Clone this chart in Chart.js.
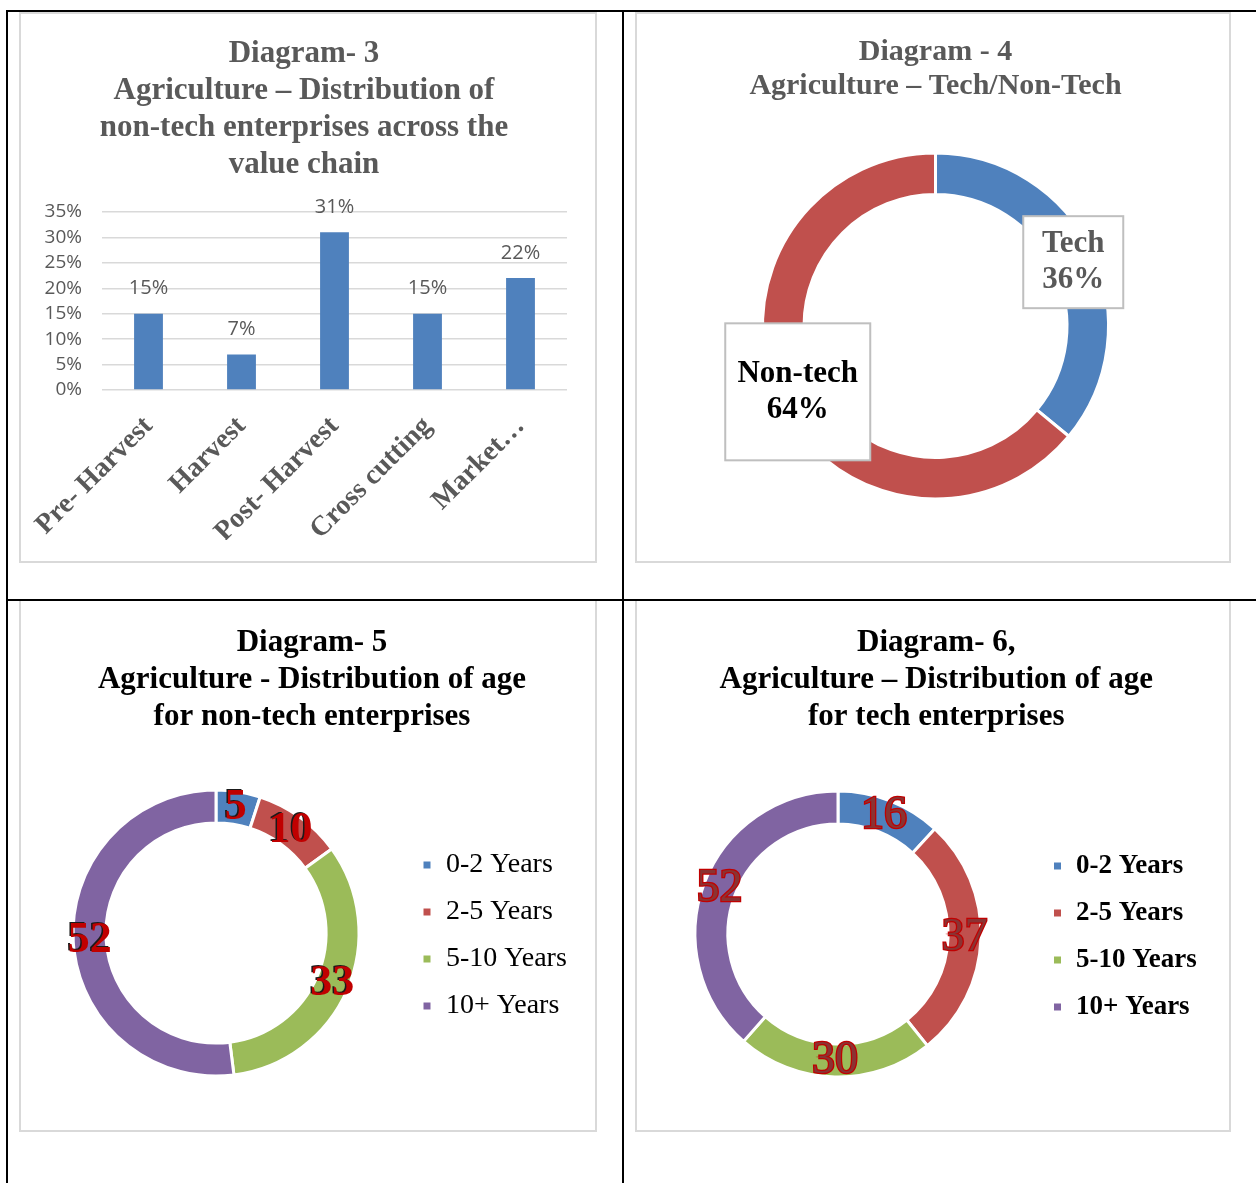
<!DOCTYPE html>
<html><head><meta charset="utf-8">
<script src="https://cdn.jsdelivr.net/npm/chart.js@4.4.1/dist/chart.umd.min.js"></script>
<style>
html,body{margin:0;padding:0;background:#fff;}
body{width:1256px;height:1183px;position:relative;overflow:hidden;}
.line{position:absolute;background:#000;z-index:5;}
.box{position:absolute;border:2px solid #d9d9d9;box-sizing:border-box;background:#fff;}
.box canvas{position:absolute;left:0;top:0;}
</style></head><body>
<div class="box" style="left:19px;top:12px;width:578px;height:551px"><canvas id="c3" width="574" height="547"></canvas></div>
<div class="box" style="left:635px;top:12px;width:596px;height:551px"><canvas id="c4" width="592" height="547"></canvas></div>
<div class="box" style="left:19px;top:599px;width:578px;height:533px"><canvas id="c5" width="574" height="529"></canvas></div>
<div class="box" style="left:635px;top:599px;width:596px;height:533px"><canvas id="c6" width="592" height="529"></canvas></div>
<div class="line" style="left:6px;top:10px;width:1250px;height:2px"></div>
<div class="line" style="left:6px;top:599px;width:1250px;height:2px"></div>
<div class="line" style="left:6px;top:10px;width:2px;height:1173px"></div>
<div class="line" style="left:622px;top:10px;width:2px;height:1173px"></div>
<script>
// ---------- DATA ----------
const d3Title = ['Diagram- 3', 'Agriculture \u2013 Distribution of', 'non-tech enterprises across the', 'value chain'];
const d3Categories = ['Pre- Harvest', 'Harvest', 'Post- Harvest', 'Cross cutting', 'Market\u2026'];
const d3Values = [15, 7, 31, 15, 22];
const d3TickMax = 35;
const d3TickStep = 5;

const d4Title = ['Diagram - 4', 'Agriculture \u2013 Tech/Non-Tech'];
const d4Labels = ['Tech', 'Non-tech'];
const d4Values = [36, 64];

const d5Title = ['Diagram- 5', 'Agriculture - Distribution of age', 'for non-tech enterprises'];
const d6Title = ['Diagram- 6,', 'Agriculture \u2013 Distribution of age', 'for tech enterprises'];
const ageLabels = ['0-2 Years', '2-5 Years', '5-10 Years', '10+ Years'];
const d5Values = [5, 10, 33, 52];
const d6Values = [16, 37, 30, 52];

// ---------- STYLE ----------
const BLUE = '#4f81bd', RED = '#c0504d', GREEN = '#9bbb59', PURPLE = '#8064a2';
const GRAY = '#595959';
const SERIF = '"Liberation Serif", "Times New Roman", serif';
const SANS = '"Open Sans", "Liberation Sans", sans-serif';

// ---------- Diagram 3 ----------
const barLabelPlugin = {
  id: 'barLabels',
  afterDatasetsDraw(chart) {
    const ctx = chart.ctx;
    const meta = chart.getDatasetMeta(0);
    const vals = chart.data.datasets[0].data;
    ctx.save();
    ctx.font = '20px ' + SANS;
    ctx.fillStyle = GRAY;
    ctx.textAlign = 'center';
    ctx.textBaseline = 'middle';
    meta.data.forEach((bar, i) => ctx.fillText(vals[i] + '%', bar.x, bar.y - 25));
    ctx.restore();
  }
};

new Chart(document.getElementById('c3'), {
  type: 'bar',
  data: { labels: d3Categories, datasets: [{ data: d3Values, backgroundColor: BLUE, categoryPercentage: 1, barPercentage: 0.31 }] },
  options: {
    responsive: false, animation: false,
    layout: { padding: { left: 20, right: 28, top: 0, bottom: 21 } },
    plugins: {
      legend: { display: false }, tooltip: { enabled: false },
      title: { display: true, text: d3Title, color: GRAY,
        font: { family: SERIF, size: 31, weight: 'bold', lineHeight: 37 / 31 },
        padding: { top: 21.5, bottom: 28.5 } }
    },
    scales: {
      x: {
        grid: { display: false }, border: { display: false },
        ticks: { color: GRAY, font: { family: SERIF, size: 28, weight: 'bold' }, minRotation: 45, maxRotation: 45, padding: 12, autoSkip: false },
        afterFit(s) { s.height = 150; s.paddingLeft = 0; s.paddingRight = 0; }
      },
      y: {
        min: 0, max: d3TickMax,
        grid: { color: '#d9d9d9', lineWidth: 1.5, drawTicks: false }, border: { display: false },
        ticks: { stepSize: d3TickStep, autoSkip: false, color: GRAY, font: { family: SANS, size: 19 }, padding: 20, callback: v => v + '%' },
        afterFit(s) { s.width = 61; }
      }
    }
  },
  plugins: [barLabelPlugin]
});

// ---------- Diagram 4 ----------
const d4LabelStyle = [
  { color: GRAY, w: 100, h: 92 },
  { color: '#000000', w: 145, h: 137 }
];
const techLabelPlugin = {
  id: 'techLabels',
  afterDatasetsDraw(chart) {
    const ctx = chart.ctx;
    const meta = chart.getDatasetMeta(0);
    const vals = chart.data.datasets[0].data;
    const total = vals.reduce((a, b) => a + b, 0);
    ctx.save();
    meta.data.forEach((arc, i) => {
      const p = arc.tooltipPosition();
      const st = d4LabelStyle[i];
      ctx.fillStyle = '#ffffff';
      ctx.fillRect(p.x - st.w / 2, p.y - st.h / 2 + 1, st.w, st.h);
      ctx.strokeStyle = '#bfbfbf';
      ctx.lineWidth = 2;
      ctx.strokeRect(p.x - st.w / 2, p.y - st.h / 2 + 1, st.w, st.h);
      ctx.font = 'bold 31px ' + SERIF;
      ctx.fillStyle = st.color;
      ctx.textAlign = 'center';
      ctx.textBaseline = 'middle';
      ctx.fillText(chart.data.labels[i], p.x, p.y - 17);
      ctx.fillText(Math.round(vals[i] / total * 100) + '%', p.x, p.y + 19);
    });
    ctx.restore();
  }
};

new Chart(document.getElementById('c4'), {
  type: 'doughnut',
  data: { labels: d4Labels, datasets: [{ data: d4Values, backgroundColor: [BLUE, RED], borderColor: '#ffffff', borderWidth: 3 }] },
  options: {
    responsive: false, animation: false,
    radius: 173, cutout: '76%',
    layout: { padding: { left: 5, right: 0, top: 0, bottom: 20 } },
    plugins: {
      legend: { display: false }, tooltip: { enabled: false },
      title: { display: true, text: d4Title, color: GRAY,
        font: { family: SERIF, size: 30, weight: 'bold', lineHeight: 34 / 30 },
        padding: { top: 21, bottom: 8 } }
    }
  },
  plugins: [techLabelPlugin]
});

// ---------- Diagrams 5 & 6 ----------
function ageLabelPlugin(font, mode) {
  return {
    id: 'ageLabels',
    afterDatasetsDraw(chart) {
      const ctx = chart.ctx;
      const meta = chart.getDatasetMeta(0);
      const vals = chart.data.datasets[0].data;
      ctx.save();
      ctx.font = font;
      ctx.textAlign = 'center';
      ctx.textBaseline = 'middle';
      meta.data.forEach((arc, i) => {
        const p = arc.tooltipPosition();
        const t = String(vals[i]);
        if (mode === 'bold') {
          ctx.fillStyle = '#1a1a1a';
          ctx.fillText(t, p.x - 1.5, p.y - 1);
          ctx.fillStyle = '#c00000';
          ctx.fillText(t, p.x, p.y);
        } else {
          ctx.lineWidth = 2.5;
          ctx.strokeStyle = '#c00000';
          ctx.strokeText(t, p.x, p.y);
          ctx.fillStyle = '#8a3333';
          ctx.fillText(t, p.x, p.y);
        }
      });
      ctx.restore();
    }
  };
}

// legend occupies a fixed strip on the right so the ring sits where it does in the original
function legendStrip(width) {
  return {
    id: 'legendStrip',
    beforeInit(chart) {
      const lg = chart.legend;
      if (!lg) return;
      const fit = lg.fit.bind(lg);
      lg.fit = function () { fit(); this.width = width; };
    }
  };
}

function ageChart(id, title, values, legendFont, legendPad, legendW, pad, labelFont, mode) {
  new Chart(document.getElementById(id), {
    type: 'doughnut',
    data: { labels: ageLabels, datasets: [{ data: values, backgroundColor: [BLUE, RED, GREEN, PURPLE], borderColor: '#ffffff', borderWidth: 3 }] },
    options: {
      responsive: false, animation: false,
      radius: 143, cutout: '77%',
      layout: { padding: pad },
      plugins: {
        tooltip: { enabled: false },
        title: { display: true, text: title, color: '#000000',
          font: { family: SERIF, size: 31, weight: 'bold', lineHeight: 37 / 31 },
          padding: { top: 23, bottom: 8 } },
        legend: {
          position: 'right', align: 'center', fullSize: false,
          title: { display: true, text: ' ', font: { size: 5, lineHeight: 1 }, padding: 0 },
          labels: { boxWidth: 10, boxHeight: 10, padding: legendPad, color: '#000000', font: legendFont }
        }
      }
    },
    plugins: [legendStrip(legendW), ageLabelPlugin(labelFont, mode)]
  });
}

ageChart('c5', d5Title, d5Values, { family: SERIF, size: 28, weight: 'normal' }, 19, 192,
  { left: 8, right: 0, top: 0, bottom: 7 }, 'bold 44px ' + SERIF, 'bold');
ageChart('c6', d6Title, d6Values, { family: SERIF, size: 27, weight: 'bold' }, 20, 196.5,
  { left: 6.5, right: 0, top: 0, bottom: 5 }, '46px ' + SERIF, 'regular');
</script>
</body></html>
